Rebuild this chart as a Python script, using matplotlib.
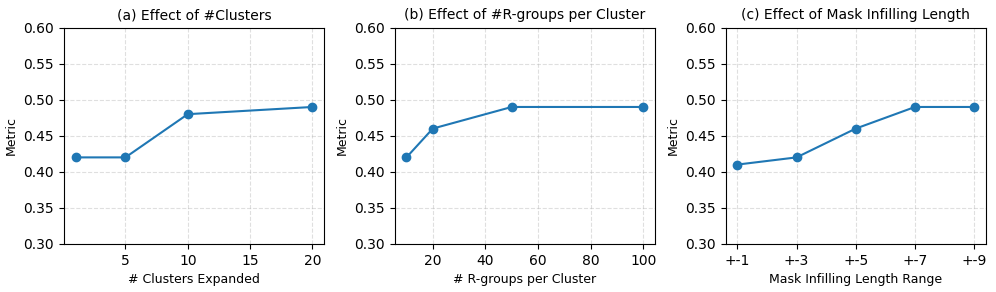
import matplotlib
matplotlib.use("Agg")
import matplotlib.pyplot as plt

clusters = [1, 5, 10, 20]
clusters_metric = [0.42, 0.42, 0.48, 0.49]

rgroups = [10, 20, 50, 100]
rgroups_metric = [0.42, 0.46, 0.49, 0.49]

mask_labels = ["+-1", "+-3", "+-5", "+-7", "+-9"]
mask_metric = [0.41, 0.42, 0.46, 0.49, 0.49]

fig, axes = plt.subplots(1, 3, figsize=(9.96, 2.92), dpi=100)
fig.subplots_adjust(left=0.064, right=0.99, bottom=0.165, top=0.905, wspace=0.27)

color = "#1f77b4"
title_fs = 10
label_fs = 9

ax = axes[0]
ax.plot(clusters, clusters_metric, marker="o", color=color)
ax.set_title("(a) Effect of #Clusters", fontsize=title_fs)
ax.set_xlabel("# Clusters Expanded", fontsize=label_fs)
ax.set_xticks([5, 10, 15, 20])

ax = axes[1]
ax.plot(rgroups, rgroups_metric, marker="o", color=color)
ax.set_title("(b) Effect of #R-groups per Cluster", fontsize=title_fs)
ax.set_xlabel("# R-groups per Cluster", fontsize=label_fs)
ax.set_xticks([20, 40, 60, 80, 100])

ax = axes[2]
xs = list(range(len(mask_labels)))
ax.plot(xs, mask_metric, marker="o", color=color)
ax.set_title("(c) Effect of Mask Infilling Length", fontsize=title_fs)
ax.set_xlabel("Mask Infilling Length Range", fontsize=label_fs)
ax.set_xticks(xs)
ax.set_xticklabels(mask_labels)

for ax in axes:
    ax.set_ylim(0.30, 0.60)
    ax.set_yticks([0.30, 0.35, 0.40, 0.45, 0.50, 0.55, 0.60])
    ax.set_ylabel("Metric", fontsize=label_fs)
    ax.grid(True, linestyle="--", alpha=0.4)

fig.savefig("out.png", dpi=100)
